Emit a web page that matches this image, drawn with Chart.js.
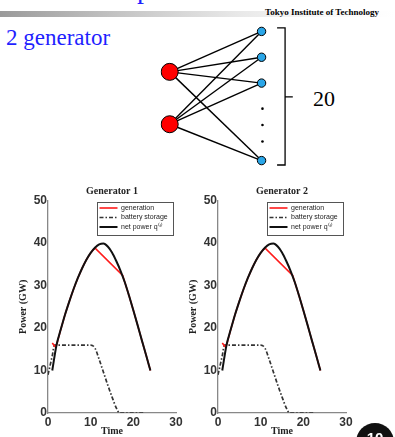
<!DOCTYPE html>
<html><head><meta charset="utf-8">
<script src="https://cdn.jsdelivr.net/npm/chart.js@4.4.1/dist/chart.umd.min.js"></script>
<style>
html,body{margin:0;padding:0;background:#fff;width:395px;height:437px;overflow:hidden;position:relative;}
.abs{position:absolute;white-space:nowrap;}
canvas{position:absolute;}
</style></head><body>
<div class="abs" style="left:0;top:11px;width:395px;height:6px;background:linear-gradient(to right,#9a9a9a 0%,#c4c4c4 30%,#e8e8e8 60%,#f8f8f8 80%,#fff 100%);"></div>
<div class="abs" style="left:137px;top:-25px;font:28px/28px 'Liberation Serif',serif;color:#1f1fff;">p</div>
<div class="abs" style="left:265px;top:7.5px;font:bold 9px/9px 'Liberation Serif',serif;color:#000;">Tokyo Institute of Technology</div>
<div class="abs" style="left:6px;top:26px;font:23px/23px 'Liberation Serif',serif;color:#1f1fff;">2 generator</div>
<div class="abs" style="left:313px;top:88px;font:22px/22px 'Liberation Serif',serif;color:#000;">20</div>
<canvas id="net" width="166" height="174" style="left:151px;top:9px;"></canvas>
<canvas id="g1" width="195" height="257" style="left:0;top:180px;"></canvas>
<canvas id="g2" width="195" height="257" style="left:170px;top:180px;"></canvas>
<div class="abs" style="left:356px;top:423px;width:38px;height:38px;border-radius:50%;background:#111;"></div>
<div class="abs" style="left:356px;top:430px;width:38px;text-align:center;font:bold 15px/15px 'Liberation Sans',sans-serif;color:#fff;">10</div>
<script>
// ---- network diagram data (abstract layout units) ----
const genX = 0, loadX = 1, dotX = 1.01;
const genY = [1.566, 3.593];
const loadY = [0, 1, 2, 5];
const dotY = [2.99, 3.62, 4.26];
const edges = [[0,0],[0,1],[0,2],[0,3],[1,0],[1,1],[1,2],[1,3]];
const braceX = [1.169, 1.256, 1.256, 1.34, 1.256, 1.256, 1.169];
const braceY = [-0.138, -0.138, 2.53, 2.53, 2.53, 5.17, 5.17];

// ---- generator chart data ----
const timeNet = [1,2,3,4,5,6,7,8,9,10,11,12,13,14,15,16,17,18,19,20,21,22,23,24];
const netPower = [10,16,19.7,23.2,26.3,29.2,31.8,34.1,36.1,37.7,38.9,39.7,39.9,39.2,37.8,35.8,33.5,30.8,27.6,24.2,20.7,17.1,13.6,10];
const timeGen = [1,1.6,2,3,4,5,6,7,8,9,10,11,17.5,18,19,20,21,22,23,24];
const generation = [16.5,15.7,16,19.7,23.2,26.3,29.2,31.8,34.1,36.1,37.7,38.9,32.4,30.8,27.6,24.2,20.7,17.1,13.6,10];
const timeBat = [0,1,1.5,2,4,6,8,10,11,12,13,14,15,16,16.8,18,20,22.5];
const battery = [9,13.5,16,16,16,16,16,16,15.3,12.6,9.6,6.6,3.8,1.2,0,0,0,0];
const xTicks = [0,10,20,30];
const yTicks = [0,10,20,30,40,50];
const seriesNames = ['generation','battery storage','net power q\u207D\u1D57\u207E'];
const chartTitles = ['Generator 1','Generator 2'];

const pts = (xs, ys) => xs.map((x,i)=>({x:x, y:ys[i]}));

// network chart
const netSets = [];
netSets.push({data: genY.map(y=>({x:genX,y:y})), pointRadius:8.5, pointBackgroundColor:'#ff0000', pointBorderColor:'#000', pointBorderWidth:1});
netSets.push({data: loadY.map(y=>({x:loadX,y:y})), pointRadius:4.2, pointBackgroundColor:'#2aa6e8', pointBorderColor:'#000', pointBorderWidth:1});
netSets.push({data: dotY.map(y=>({x:dotX,y:y})), pointRadius:1.3, pointBackgroundColor:'#000', pointBorderColor:'#000', pointBorderWidth:0});
edges.forEach(e=>{
  netSets.push({data:[{x:genX,y:genY[e[0]]},{x:loadX,y:loadY[e[1]]}], showLine:true, pointRadius:0, borderColor:'#000', borderWidth:1.4});
});
netSets.push({data: pts(braceX, braceY), showLine:true, pointRadius:0, borderColor:'#000', borderWidth:1.3});
new Chart(document.getElementById('net'), {
  type:'scatter',
  data:{datasets:netSets},
  options:{responsive:false, animation:false, devicePixelRatio:1,
    layout:{padding:0},
    plugins:{legend:{display:false}, tooltip:{enabled:false}},
    scales:{
      x:{type:'linear', min:-0.1, max:1.5, display:false},
      y:{type:'linear', min:-0.5, max:5.5, reverse:true, display:false}
    }
  }
});

const legendPlace = {
  id:'legendPlace',
  afterLayout(chart){
    const L = chart.legend, a = chart.chartArea;
    const w = 76, h = 33;
    L.left = a.right - 3 - w; L.right = L.left + w; L.width = w;
    L.top = a.top + 1.3; L.bottom = L.top + h; L.height = h;
  },
  afterDraw(chart){
    const L = chart.legend, ctx = chart.ctx;
    ctx.save(); ctx.strokeStyle = '#555'; ctx.lineWidth = 1;
    ctx.strokeRect(Math.round(L.left)+0.5, Math.round(L.top)+0.5, L.width, L.height);
    ctx.restore();
  }
};

const tickFont = {family:"'Liberation Sans', Arial, sans-serif", size:12, weight:'bold'};
const titleFont = {family:"'Liberation Serif', 'Times New Roman', serif", size:10, weight:'bold'};

function legendLabels(chart){
  const items = Chart.defaults.plugins.legend.labels.generateLabels(chart);
  items.forEach(it=>{
    const ds = chart.data.datasets[it.datasetIndex];
    it.lineDash = ds.borderDash || [];
    it.lineWidth = ds.borderWidth;
    it.strokeStyle = ds.borderColor;
    it.pointStyle = 'line';
  });
  return items;
}

function makeChart(id, title){
  new Chart(document.getElementById(id), {
    type:'line',
    data:{datasets:[
      {label:seriesNames[0], data:pts(timeGen, generation), borderColor:'#ff1a1a', backgroundColor:'#ff1a1a', borderWidth:1.6, pointRadius:0, tension:0, order:1, xAxisID:'x'},
      {label:seriesNames[1], data:pts(timeBat, battery), borderColor:'#333', backgroundColor:'#333', borderWidth:1.7, borderDash:[4,2,1.5,2], pointRadius:0, cubicInterpolationMode:'monotone', order:2, xAxisID:'x'},
      {label:seriesNames[2], data:pts(timeNet, netPower), borderColor:'#111', backgroundColor:'#111', borderWidth:2, pointRadius:0, cubicInterpolationMode:'monotone', order:0, xAxisID:'x'}
    ]},
    options:{responsive:false, animation:false, devicePixelRatio:1,
      layout:{padding:{left:0, right:19, top:0, bottom:0}},
      plugins:{
        tooltip:{enabled:false},
        legend:{position:'chartArea', align:'start',
          labels:{usePointStyle:true, pointStyle:'line', pointStyleWidth:18, boxHeight:7, padding:2.5,
            color:'#222', font:{family:"'Liberation Sans', Arial, sans-serif", size:7},
            generateLabels:legendLabels,
            sort:(a,b)=>a.datasetIndex-b.datasetIndex}}
      },
      scales:{
        x:{type:'linear', position:'bottom', min:0, max:30,
          afterBuildTicks(s){ s.ticks = xTicks.map(v=>({value:v})); },
          afterFit(s){ s.height = 24; },
          grid:{display:false, drawTicks:false}, border:{display:true, color:'#888', width:1.3},
          ticks:{font:tickFont, color:'#333', padding:2, maxRotation:0, autoSkip:false},
          title:{display:true, text:'Time', font:titleFont, color:'#222', padding:{top:0,bottom:0}}},
        x2:{type:'linear', position:'top', min:0, max:30, display:true,
          afterFit(s){ s.height = 20.7; },
          grid:{display:false, drawTicks:false}, border:{display:false}, ticks:{display:false},
          title:{display:true, text:title, font:titleFont, color:'#222', padding:{top:5,bottom:0}}},
        y:{type:'linear', min:0, max:50,
          afterBuildTicks(s){ s.ticks = yTicks.map(v=>({value:v})); },
          afterFit(s){ s.width = 48; },
          grid:{display:false, drawTicks:false}, border:{display:true, color:'#888', width:1.3},
          ticks:{font:tickFont, color:'#333', padding:1, autoSkip:false},
          title:{display:true, text:'Power (GW)', font:titleFont, color:'#222', padding:{top:17,bottom:0}}}
      }
    },
    plugins:[legendPlace]
  });
}
makeChart('g1', chartTitles[0]);
makeChart('g2', chartTitles[1]);
</script>
</body></html>
